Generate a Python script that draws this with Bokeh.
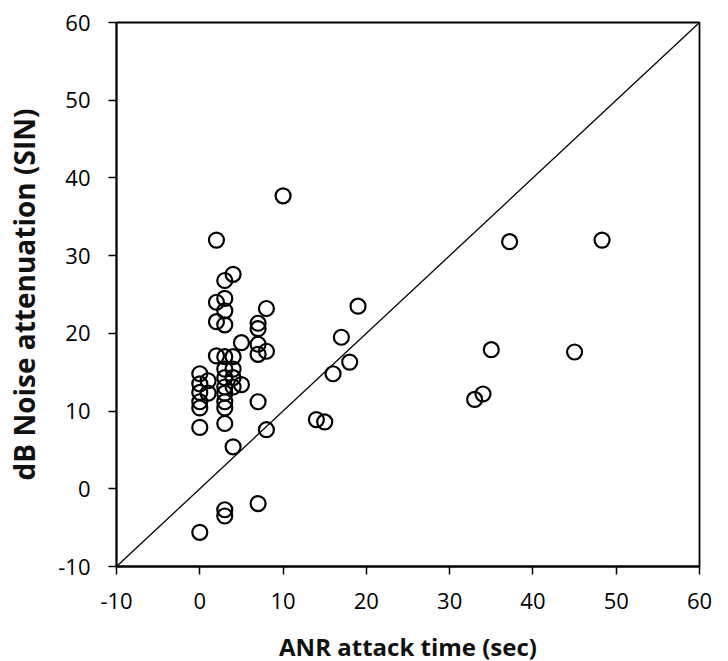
from bokeh.plotting import figure
from bokeh.embed import file_html
from bokeh.resources import INLINE
from bokeh.models import Range1d, FixedTicker

attack_time = [2, 10, 37.2, 48.3,
               4, 3,
               2, 3, 3, 2, 3,
               8, 7, 7,
               19, 17, 18, 16,
               5, 7, 8, 7,
               2, 3, 4,
               3, 4, 3, 4, 3, 4,
               5,
               0, 1, 0, 0, 1, 0, 0, 3, 3, 3,
               7,
               0, 3, 8, 4,
               14, 15,
               35, 45, 34, 33,
               7, 3, 3, 0]
attenuation = [32, 37.7, 31.8, 32,
               27.6, 26.8,
               24, 24.5, 22.9, 21.5, 21.1,
               23.2, 21.3, 20.6,
               23.5, 19.5, 16.3, 14.8,
               18.8, 18.6, 17.7, 17.3,
               17.1, 17, 17,
               15.4, 15.4, 14.3, 14.3, 13.1, 13.1,
               13.4,
               14.8, 13.9, 13.5, 12.4, 12.3, 11.2, 10.4, 11.2, 10.4, 12.3,
               11.2,
               7.9, 8.4, 7.6, 5.4,
               8.9, 8.6,
               17.9, 17.6, 12.2, 11.5,
               -1.9, -2.7, -3.5, -5.6]
ticks = [-10, 0, 10, 20, 30, 40, 50, 60]
tick_labels = ["-10", "0", "10", "20", "30", "40", "50", "60"]
identity_line = [-10, 60]

p = figure(output_backend="svg", toolbar_location=None,
           frame_width=583, frame_height=544,
           min_border_left=116, min_border_top=22, min_border_right=18, min_border_bottom=92,
           x_range=Range1d(-10, 60), y_range=Range1d(-10, 60))
p.background_fill_color = "white"
p.border_fill_color = "white"
p.outline_line_color = "black"
p.outline_line_width = 1.8
p.xgrid.visible = False
p.ygrid.visible = False

for ax in (p.xaxis[0], p.yaxis[0]):
    ax.ticker = FixedTicker(ticks=ticks)
    ax.major_label_overrides = {t: s for t, s in zip(ticks, tick_labels)}
    ax.minor_tick_line_color = None
    ax.major_tick_in = 0
    ax.major_tick_out = 8
    ax.major_tick_line_width = 1.5
    ax.major_tick_line_color = "black"
    ax.axis_line_color = "black"
    ax.axis_line_width = 1.8
    ax.major_label_text_font = "Open Sans"
    ax.major_label_text_font_size = "22px"
    ax.major_label_text_font_style = "normal"
    ax.major_label_text_color = "black"
    ax.axis_label_text_font = "Open Sans"
    ax.axis_label_text_font_style = "bold"
    ax.axis_label_text_color = "#111111"

p.xaxis.axis_label = "ANR attack time (sec)"
p.yaxis.axis_label = "dB Noise attenuation (SIN)"
p.xaxis.axis_label_text_font_size = "24px"
p.yaxis.axis_label_text_font_size = "28px"
p.xaxis.major_label_standoff = 18
p.yaxis.major_label_standoff = 18
p.xaxis.axis_label_standoff = 18
p.yaxis.axis_label_standoff = 12

p.line(identity_line, identity_line, line_color="black", line_width=1.3)
p.scatter(attack_time, attenuation, marker="circle", size=15,
          fill_color=None, line_color="black", line_width=2.2)

open("out.html", "w").write(file_html(p, INLINE))
